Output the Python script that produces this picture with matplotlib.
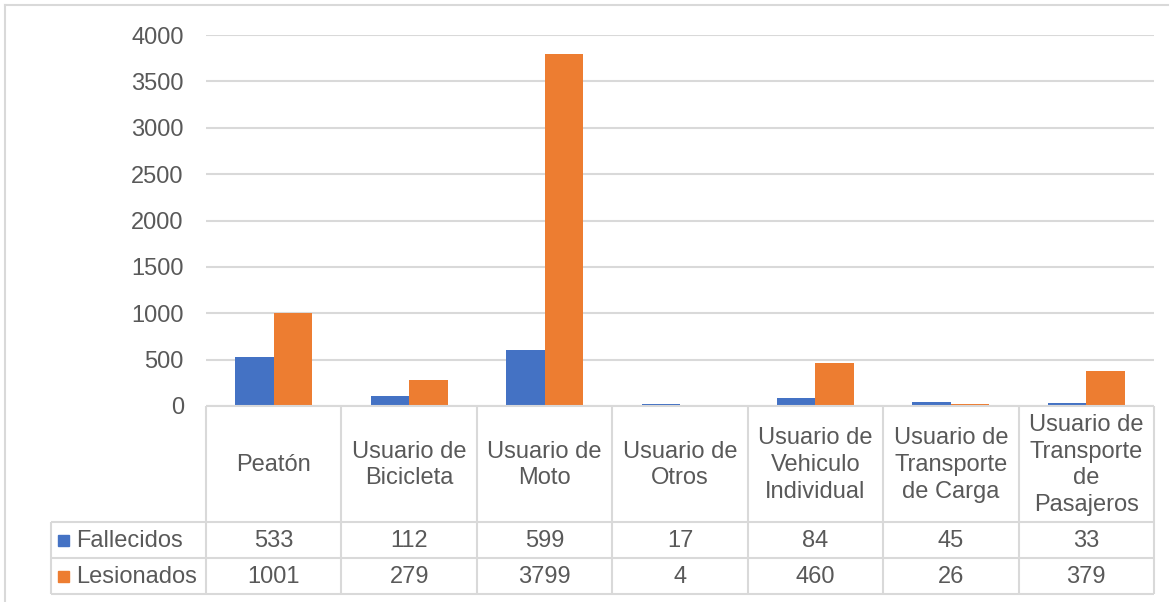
import matplotlib
matplotlib.use("Agg")
import matplotlib.pyplot as plt
from matplotlib.patches import Rectangle
import numpy as np

categories = ["Peatón", "Usuario de\nBicicleta", "Usuario de\nMoto", "Usuario de\nOtros",
              "Usuario de\nVehiculo\nIndividual", "Usuario de\nTransporte\nde Carga",
              "Usuario de\nTransporte\nde\nPasajeros"]
series_names = ["Fallecidos", "Lesionados"]
fallecidos = [533, 112, 599, 17, 84, 45, 33]
lesionados = [1001, 279, 3799, 4, 460, 26, 379]
yticks = [0, 500, 1000, 1500, 2000, 2500, 3000, 3500, 4000]

BLUE = "#4472C4"
ORANGE = "#ED7D31"
GRID = "#D9D9D9"
TXT = "#595959"
FONT = "Liberation Sans"
FS = 17

W, H = 1171, 602
fig = plt.figure(figsize=(W / 100, H / 100), dpi=100)
plt.rcParams['font.family'] = [FONT, 'DejaVu Sans']

def fx(px):
    return px / W

def fy(py):
    return 1 - py / H

# pixel layout
x0, x1 = 206, 1154
y_top, y_zero = 35, 406
y_hdr, y_r1, y_r2 = 522, 558, 594
leg_left = 51

# outer border (left & top)
border = fig.add_axes([0, 0, 1, 1])
border.set_xlim(0, W)
border.set_ylim(H, 0)
border.axis("off")
border.plot([5, 5], [5, H + 5], color=GRID, lw=1.5, clip_on=False)
border.plot([5, W - 3], [5, 5], color=GRID, lw=1.5, clip_on=False)

ax = fig.add_axes([fx(x0), fy(y_zero), fx(x1 - x0), (y_zero - y_top) / H])
n = len(categories)
x = np.arange(n)
bw = 0.284
ax.bar(x - bw / 2, fallecidos, width=bw, color=BLUE, zorder=3)
ax.bar(x + bw / 2, lesionados, width=bw, color=ORANGE, zorder=3)
ax.set_xlim(-0.5, n - 0.5)
ax.set_ylim(0, 4000)
ax.set_yticks(yticks)
ax.set_yticklabels([str(v) for v in yticks], fontsize=FS, color=TXT, family=FONT)
ax.tick_params(axis="y", length=0, pad=16)
ax.set_xticks([])
ax.grid(axis="y", color=GRID, lw=1.5, zorder=0)
for s in ["top", "right", "left", "bottom"]:
    ax.spines[s].set_visible(False)

# table axes
tab = fig.add_axes([fx(x0), fy(y_r2), fx(x1 - x0), (y_r2 - y_zero) / H])
tab.set_xlim(-0.5, n - 0.5)
tab.set_ylim(y_r2, y_zero)
tab.axis("off")
cw = (x1 - x0) / n
xl = -0.5 - (x0 - leg_left) / cw
lkw = dict(color=GRID, lw=1.5, clip_on=False, solid_capstyle="butt")
# horizontal lines
tab.plot([-0.5, n - 0.5], [y_zero, y_zero], **lkw)
for yy in (y_hdr, y_r1, y_r2):
    tab.plot([xl, n - 0.5], [yy, yy], **lkw)
# vertical lines
for i in range(n + 1):
    tab.plot([i - 0.5, i - 0.5], [y_zero, y_r2], **lkw)
tab.plot([xl, xl], [y_hdr, y_r2], **lkw)

for i, c in enumerate(categories):
    tab.text(i, (y_zero + y_hdr) / 2 + 1, c, ha="center", va="center", fontsize=FS,
             color=TXT, family=FONT, linespacing=1.29, clip_on=False)
    tab.text(i, (y_hdr + y_r1) / 2 + 1, str(fallecidos[i]), ha="center", va="center",
             fontsize=FS, color=TXT, family=FONT, clip_on=False)
    tab.text(i, (y_r1 + y_r2) / 2 + 1, str(lesionados[i]), ha="center", va="center",
             fontsize=FS, color=TXT, family=FONT, clip_on=False)

# legend keys
sq = 11 / cw
for (yy0, yy1), name, col in [((y_hdr, y_r1), series_names[0], BLUE),
                              ((y_r1, y_r2), series_names[1], ORANGE)]:
    cy = (yy0 + yy1) / 2
    kx = xl + 7 / cw
    tab.add_patch(Rectangle((kx, cy - 5.5), sq, 11, color=col, clip_on=False))
    tab.text(xl + 25 / cw, cy + 1, name, ha="left", va="center", fontsize=FS,
             color=TXT, family=FONT, clip_on=False)

fig.savefig("out.png", dpi=100)
